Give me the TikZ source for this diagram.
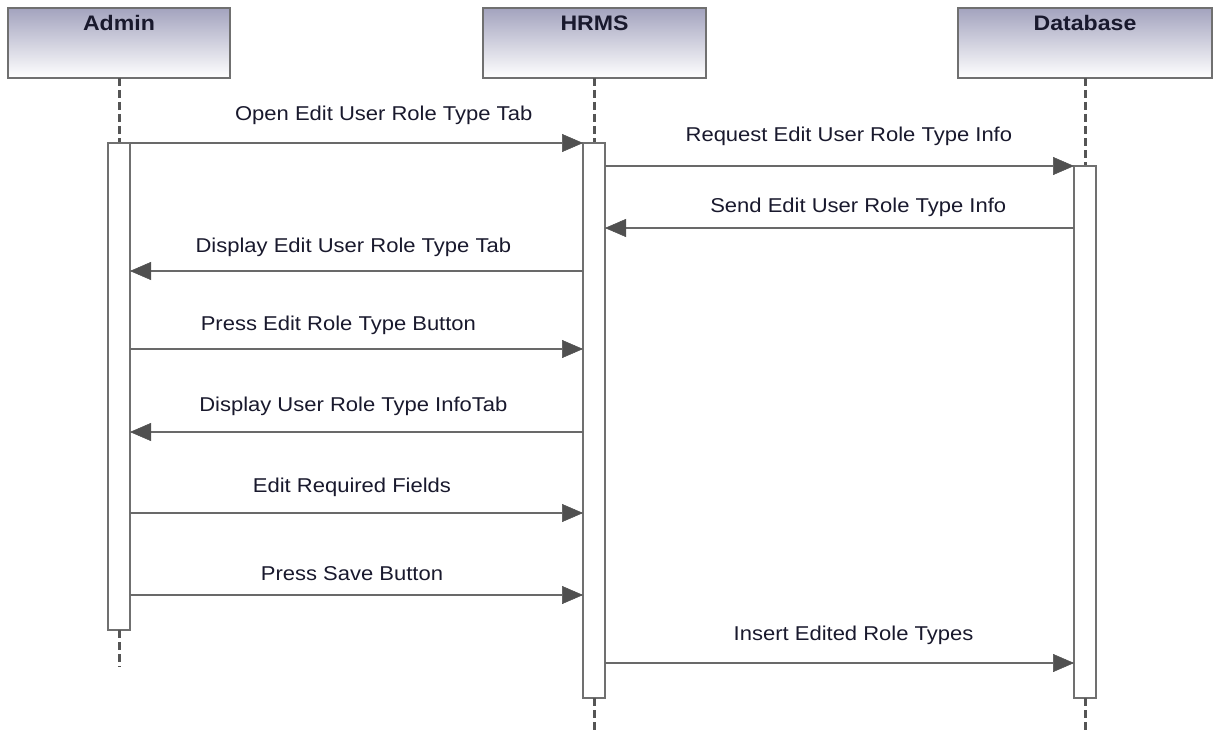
\documentclass[tikz,border=0pt]{standalone}
\usepackage{fontspec}
\usetikzlibrary{arrows.meta}
\newfontfamily\diafont[FakeStretch=1.1]{Liberation Sans}
\definecolor{headtop}{RGB}{163,163,190}
\definecolor{boxline}{RGB}{112,112,112}
\definecolor{msgline}{RGB}{105,105,105}
\definecolor{headc}{RGB}{80,80,80}
\definecolor{lifec}{RGB}{85,85,85}
\definecolor{txt}{RGB}{25,25,45}
\begin{document}
\begin{tikzpicture}[x=1pt,y=-1pt,
  head/.style={draw=boxline, line width=2pt, top color=headtop, bottom color=white, minimum height=70pt, inner sep=0pt, outer sep=0pt},
  title/.style={font=\diafont\bfseries\fontsize{21}{25}\selectfont, text=txt, anchor=base, inner sep=0pt},
  act/.style={draw=boxline, line width=2pt, fill=white, minimum width=22pt, inner sep=0pt, outer sep=0pt, anchor=north},
  life/.style={draw=lifec, line width=3pt, dash pattern=on 8pt off 4pt},
  msg/.style={draw=msgline, line width=2pt, -{Triangle[length=21pt,width=18pt,fill=headc,color=headc,line width=0.5pt]}},
  lab/.style={font=\diafont\fontsize{20}{24}\selectfont, text=txt, anchor=base, inner sep=0pt},
]
\useasboundingbox (0,0) rectangle (1217,733);
\fill[white] (0,0) rectangle (1217,733);

% heads
\node[head, minimum width=222pt] (hA) at (119,43) {};
\node[head, minimum width=223pt] (hH) at (594.5,43) {};
\node[head, minimum width=254pt] (hD) at (1085,43) {};
\node[title] (tA) at ([yshift=-23pt]hA.north) {Admin};
\node[title] (tH) at ([yshift=-23pt]hH.north) {HRMS};
\node[title] (tD) at ([yshift=-23pt]hD.north) {Database};

% lifeline ends
\coordinate (eA) at (119,667);
\coordinate (eH) at (594,733);
\coordinate (eD) at (1085,733);
\coordinate (sA) at (119,143);
\coordinate (sH) at (594,143);
\coordinate (sD) at (1085,166);

\draw[life] (hA.south) -- (sA);
\draw[life] (hH.south -| sH) -- (sH);
\draw[life] (hD.south) -- (sD);

% activation bars
\node[act, minimum height=487pt] (aA) at (sA) {};
\node[act, minimum height=555pt] (aH) at (sH) {};
\node[act, minimum height=532pt] (aD) at (sD) {};

\draw[life] (aA.south) -- (eA);
\draw[life] (aH.south) -- (eH);
\draw[life] (aD.south) -- (eD);

% messages
\draw[msg] (aA.east |- 0,143) -- node[lab,pos=0.56,yshift=22pt] (m1) {Open Edit User Role Type Tab} (aH.west |- 0,143);
\draw[msg] (aH.east |- 0,166) -- node[lab,pos=0.52,yshift=25pt] (m2) {Request Edit User Role Type Info} (aD.west |- 0,166);
\draw[msg] (aD.west |- 0,228) -- node[lab,pos=0.46,yshift=16pt] (m3) {Send Edit User Role Type Info} (aH.east |- 0,228);
\draw[msg] (aH.west |- 0,271) -- node[lab,pos=0.507,yshift=19pt] (m4) {Display Edit User Role Type Tab} (aA.east |- 0,271);
\draw[msg] (aA.east |- 0,349) -- node[lab,pos=0.46,yshift=19pt] (m5) {Press Edit Role Type Button} (aH.west |- 0,349);
\draw[msg] (aH.west |- 0,432) -- node[lab,pos=0.507,yshift=21pt] (m6) {Display User Role Type InfoTab} (aA.east |- 0,432);
\draw[msg] (aA.east |- 0,513) -- node[lab,pos=0.49,yshift=21pt] (m7) {Edit Required Fields} (aH.west |- 0,513);
\draw[msg] (aA.east |- 0,595) -- node[lab,pos=0.49,yshift=15pt] (m8) {Press Save Button} (aH.west |- 0,595);
\draw[msg] (aH.east |- 0,663) -- node[lab,pos=0.53,yshift=23pt] (m9) {Insert Edited Role Types} (aD.west |- 0,663);
\end{tikzpicture}
\end{document}
